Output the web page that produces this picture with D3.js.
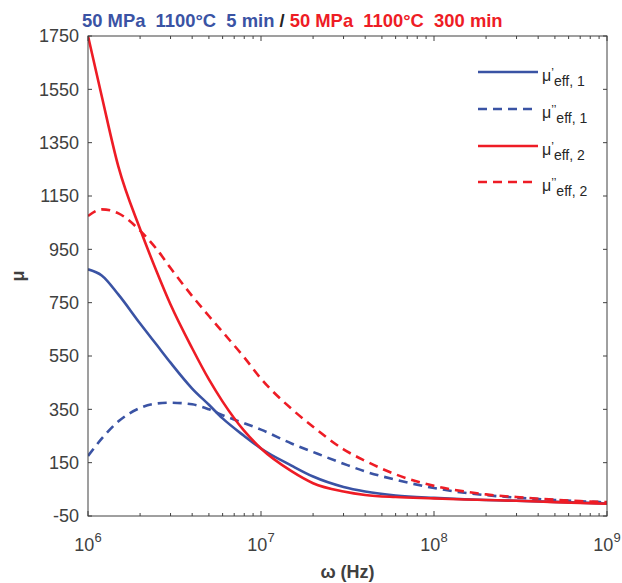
<!DOCTYPE html>
<html><head><meta charset="utf-8">
<script src="https://cdn.jsdelivr.net/npm/d3@7"></script>
<style>body{margin:0;background:#fff}svg{display:block;font-family:"Liberation Sans",Arial,sans-serif}</style>
</head><body><svg id="c" width="622" height="583"></svg>
<script>
// ---- data ----
const freqs    = [1e6,1.2e6,1.5e6,2e6,2.5e6,3e6,4e6,5e6,6e6,8e6,1e7,1.5e7,2e7,3e7,4e7,6e7,1e8,1.5e8,2e8,3e8,5e8,7e8,1e9];
const mu1Real  = [875,852,780,672,591,525,428,367,316,250,203,139,98,59,42,27,18,13,10,7,3,0,-3];
const mu1Imag  = [175,240,305,355,372,375,369,350,328,298,274,222,190,146,117,86,55,37,28,19,10,5,1];
const mu2Real  = [1750,1525,1259,1026,865,743,579,462,379,269,203,118,73,42,29,21,16,12,10,7,2,-1,-4];
const mu2Imag  = [1075,1100,1085,1020,950,880,775,700,640,545,465,352,285,200,157,106,63,42,31,21,11,6,2];
const yTicks   = [-50,150,350,550,750,950,1150,1350,1550,1750];
const xTicks   = [1e6,1e7,1e8,1e9];
const xTickExp = ["6","7","8","9"];
const seriesNames = ["eff, 1","eff, 1","eff, 2","eff, 2"];
const seriesPrimes = ["\u2019","\u2019\u2019","\u2019","\u2019\u2019"];
const titleParts = ["50 MPa  1100\u00b0C  5 min"," / ","50 MPa  1100\u00b0C  300 min"];

const BLUE="#3a53a4", RED="#ee1c25", AX="#404040";
const series = [
  {vals:mu1Real, color:BLUE, dash:null},
  {vals:mu1Imag, color:BLUE, dash:"9,6"},
  {vals:mu2Real, color:RED,  dash:null},
  {vals:mu2Imag, color:RED,  dash:"9,6"}
];

const L=88, T=36, R=607, B=516;
const svg=d3.select("#c");
const x=d3.scaleLog().domain([1e6,1e9]).range([L,R]);
const y=d3.scaleLinear().domain([-50,1750]).range([B,T]);

svg.append("clipPath").attr("id","clip").append("rect").attr("x",L).attr("y",T).attr("width",R-L).attr("height",B-T);

// lines
const line=d3.line().x((d,i)=>x(freqs[i])).y(d=>y(d)).curve(d3.curveMonotoneX);
const g=svg.append("g").attr("clip-path","url(#clip)");
series.forEach(s=>{
  g.append("path").attr("d",line(s.vals)).attr("fill","none")
   .attr("stroke",s.color).attr("stroke-width",2.6)
   .attr("stroke-dasharray",s.dash);
});

// axes box with inward ticks
const minor=[];
for(let e=6;e<9;e++) for(let k=2;k<=9;k++) minor.push(k*Math.pow(10,e));
const ax=svg.append("g").attr("stroke",AX).attr("stroke-width",1).attr("fill","none");
ax.append("rect").attr("x",L).attr("y",T).attr("width",R-L).attr("height",B-T);
xTicks.forEach(t=>{
  ax.append("line").attr("x1",x(t)).attr("x2",x(t)).attr("y1",B).attr("y2",B-5);
  ax.append("line").attr("x1",x(t)).attr("x2",x(t)).attr("y1",T).attr("y2",T+5);
});
minor.forEach(t=>{
  ax.append("line").attr("x1",x(t)).attr("x2",x(t)).attr("y1",B).attr("y2",B-3);
  ax.append("line").attr("x1",x(t)).attr("x2",x(t)).attr("y1",T).attr("y2",T+3);
});
yTicks.forEach(t=>{
  ax.append("line").attr("x1",L).attr("x2",L+4).attr("y1",y(t)).attr("y2",y(t));
  ax.append("line").attr("x1",R).attr("x2",R-4).attr("y1",y(t)).attr("y2",y(t));
});

// tick labels
yTicks.forEach(t=>{
  svg.append("text").attr("x",79).attr("y",y(t)).attr("dy","0.35em")
   .attr("text-anchor","end").attr("font-size",18).attr("fill",AX).text(t);
});
xTicks.forEach((t,i)=>{
  const tx=svg.append("text").attr("x",x(t)).attr("y",551).attr("text-anchor","middle")
   .attr("font-size",18).attr("fill",AX);
  tx.append("tspan").text("10");
  tx.append("tspan").attr("font-size",13).attr("dy",-9).text(xTickExp[i]);
});

// axis labels
svg.append("text").attr("transform","translate(24,276) rotate(-90)").attr("text-anchor","middle")
  .attr("font-size",18).attr("font-weight","bold").attr("fill",AX).text("\u03bc");
svg.append("text").attr("x",(L+R)/2).attr("y",578).attr("text-anchor","middle")
  .attr("font-size",18).attr("font-weight","bold").attr("fill",AX).text("\u03c9 (Hz)");

// title
const title=svg.append("text").attr("x",82).attr("y",27).attr("font-size",18.4)
  .attr("font-weight","bold").style("white-space","pre");
[BLUE,"#222",RED].forEach((c,i)=>title.append("tspan").attr("fill",c).text(titleParts[i]));

// legend
const legY=[72,109,146,182];
series.forEach((s,i)=>{
  svg.append("line").attr("x1",478).attr("x2",538).attr("y1",legY[i]).attr("y2",legY[i])
    .attr("stroke",s.color).attr("stroke-width",2.6).attr("stroke-dasharray",s.dash);
  const t=svg.append("text").attr("x",542).attr("y",legY[i]+9).attr("fill","#262626").attr("font-size",16);
  t.append("tspan").text("\u03bc");
  t.append("tspan").attr("font-size",12).attr("dy",-4).text(seriesPrimes[i]);
  t.append("tspan").attr("font-size",14).attr("dy",9).text(seriesNames[i]);
});
</script></body></html>
